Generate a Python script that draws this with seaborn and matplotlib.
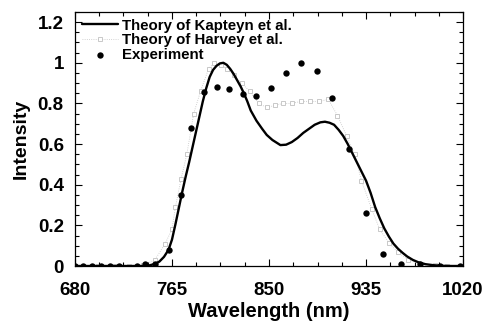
import numpy as np
import pandas as pd
import seaborn as sns
import matplotlib
matplotlib.use("Agg")
import matplotlib.pyplot as plt
from matplotlib.ticker import MultipleLocator

# Theory of Kapteyn et al. (wavelength nm, intensity)
kap_wl = [680, 700, 720, 740, 745, 750, 754, 758, 762, 765, 768, 771, 774, 777, 780,
          783, 786, 789, 792, 795, 798, 801, 804, 807, 810, 813, 816, 819, 822, 825,
          828, 831, 834, 839, 844, 848, 853, 860, 865, 870, 875, 880, 885, 890, 895,
          899, 903, 907, 911, 915, 919, 923, 927, 931, 935, 939, 943, 947, 951, 955,
          959, 963, 967, 971, 976, 981, 987, 994, 1002, 1010, 1020]
kap_int = [0, 0, 0, 0, 0.003, 0.01, 0.022, 0.045, 0.08, 0.13, 0.205, 0.285, 0.365, 0.44, 0.51,
           0.585, 0.66, 0.735, 0.81, 0.875, 0.93, 0.965, 0.985, 0.997, 1.0, 0.99, 0.97, 0.945, 0.915, 0.885,
           0.85, 0.81, 0.765, 0.715, 0.675, 0.645, 0.62, 0.595, 0.597, 0.61, 0.63, 0.655, 0.675, 0.695, 0.707,
           0.71, 0.705, 0.695, 0.67, 0.64, 0.60, 0.555, 0.51, 0.465, 0.42, 0.36, 0.29, 0.235, 0.185, 0.145,
           0.11, 0.085, 0.065, 0.047, 0.03, 0.018, 0.009, 0.004, 0.001, 0, 0]

# Theory of Harvey et al.
har_wl = [680, 700, 715, 727, 740, 750, 759, 765, 768, 773, 778, 784, 790, 797, 802,
          808, 813, 819, 826, 833, 841, 848, 855, 862, 870, 878, 886, 894, 902, 910,
          918, 925, 931, 940, 947, 955, 963, 972, 982, 995, 1006, 1020]
har_int = [0, 0, 0, 0, 0.005, 0.03, 0.11, 0.18, 0.29, 0.43, 0.55, 0.75, 0.86, 0.97, 1.0,
           0.99, 0.97, 0.94, 0.90, 0.86, 0.80, 0.78, 0.79, 0.80, 0.80, 0.81, 0.81, 0.81, 0.82, 0.74,
           0.64, 0.55, 0.42, 0.28, 0.18, 0.115, 0.067, 0.03, 0.01, 0.003, 0, 0]

# Measured spectrum
exp_wl = [680, 687, 695, 703, 711, 719, 734, 741, 750, 762, 773, 782, 793, 804, 815,
          827, 839, 852, 865, 878, 892, 905, 920, 935, 950, 966, 982, 1000, 1017]
exp_int = [0, 0, 0, 0, 0, 0, 0, 0.01, 0.01, 0.079, 0.348, 0.68, 0.854, 0.882, 0.869,
           0.848, 0.836, 0.874, 0.951, 0.997, 0.961, 0.825, 0.575, 0.262, 0.061, 0.009, 0.008, 0, 0]

x_ticks = [680, 765, 850, 935, 1020]
y_ticks = [0, 0.2, 0.4, 0.6, 0.8, 1.0, 1.2]
y_tick_labels = ["0", "0.2", "0.4", "0.6", "0.8", "1", "1.2"]

sns.set_theme(style="ticks")
plt.rcParams["font.family"] = ["Liberation Sans", "DejaVu Sans"]
plt.rcParams["font.weight"] = "bold"
for key in ("text.color", "axes.labelcolor", "xtick.color", "ytick.color", "axes.edgecolor"):
    plt.rcParams[key] = "black"

kap = pd.DataFrame({"wl": kap_wl, "I": kap_int})
har = pd.DataFrame({"wl": har_wl, "I": har_int})
exp = pd.DataFrame({"wl": exp_wl, "I": exp_int})

fig = plt.figure(figsize=(4.9, 3.24), dpi=100)
ax = fig.add_axes([0.153, 0.179, 0.792, 0.784])

sns.lineplot(data=kap, x="wl", y="I", ax=ax, color="black", linewidth=1.7,
             label="Theory of Kapteyn et al.", zorder=3)
sns.lineplot(data=har, x="wl", y="I", ax=ax, color="#c4c4c4", linewidth=0.6,
             linestyle=":", marker="s", markersize=3.2, markerfacecolor="white",
             markeredgecolor="#b4b4b4", markeredgewidth=0.5,
             label="Theory of Harvey et al.", zorder=2)
sns.scatterplot(data=exp, x="wl", y="I", ax=ax, color="black", s=21,
                edgecolor="black", linewidth=0, label="Experiment", zorder=4)

ax.set_xlim(680, 1020)
ax.set_ylim(0, 1.25)
ax.set_xticks(x_ticks)
ax.set_xticklabels([str(v) for v in x_ticks])
ax.set_yticks(y_ticks)
ax.set_yticklabels(y_tick_labels)
ax.xaxis.set_minor_locator(MultipleLocator(21.25))
ax.yaxis.set_minor_locator(MultipleLocator(0.05))
ax.tick_params(which="both", direction="in", top=True, right=True, labelsize=13.5,
               width=0.8, colors="black")
ax.tick_params(axis="x", which="major", pad=11.5)
ax.tick_params(axis="y", which="major", pad=8)
ax.tick_params(which="major", length=5)
ax.tick_params(which="minor", length=3)
for lab in ax.get_xticklabels() + ax.get_yticklabels():
    lab.set_fontweight("bold")
for sp in ax.spines.values():
    sp.set_linewidth(0.9)
    sp.set_color("black")

ax.set_xlabel("Wavelength (nm)", fontsize=14.5, fontweight="bold", labelpad=2)
ax.set_ylabel("Intensity", fontsize=14, fontweight="bold", labelpad=6)

leg = ax.legend(loc="upper left", frameon=False, handlelength=2.4,
                handletextpad=0.3, labelspacing=0.05, borderaxespad=0.05,
                prop={"weight": "bold", "size": 10.8})
for t in leg.get_texts():
    t.set_color("black")

fig.savefig("out.png", dpi=100)
